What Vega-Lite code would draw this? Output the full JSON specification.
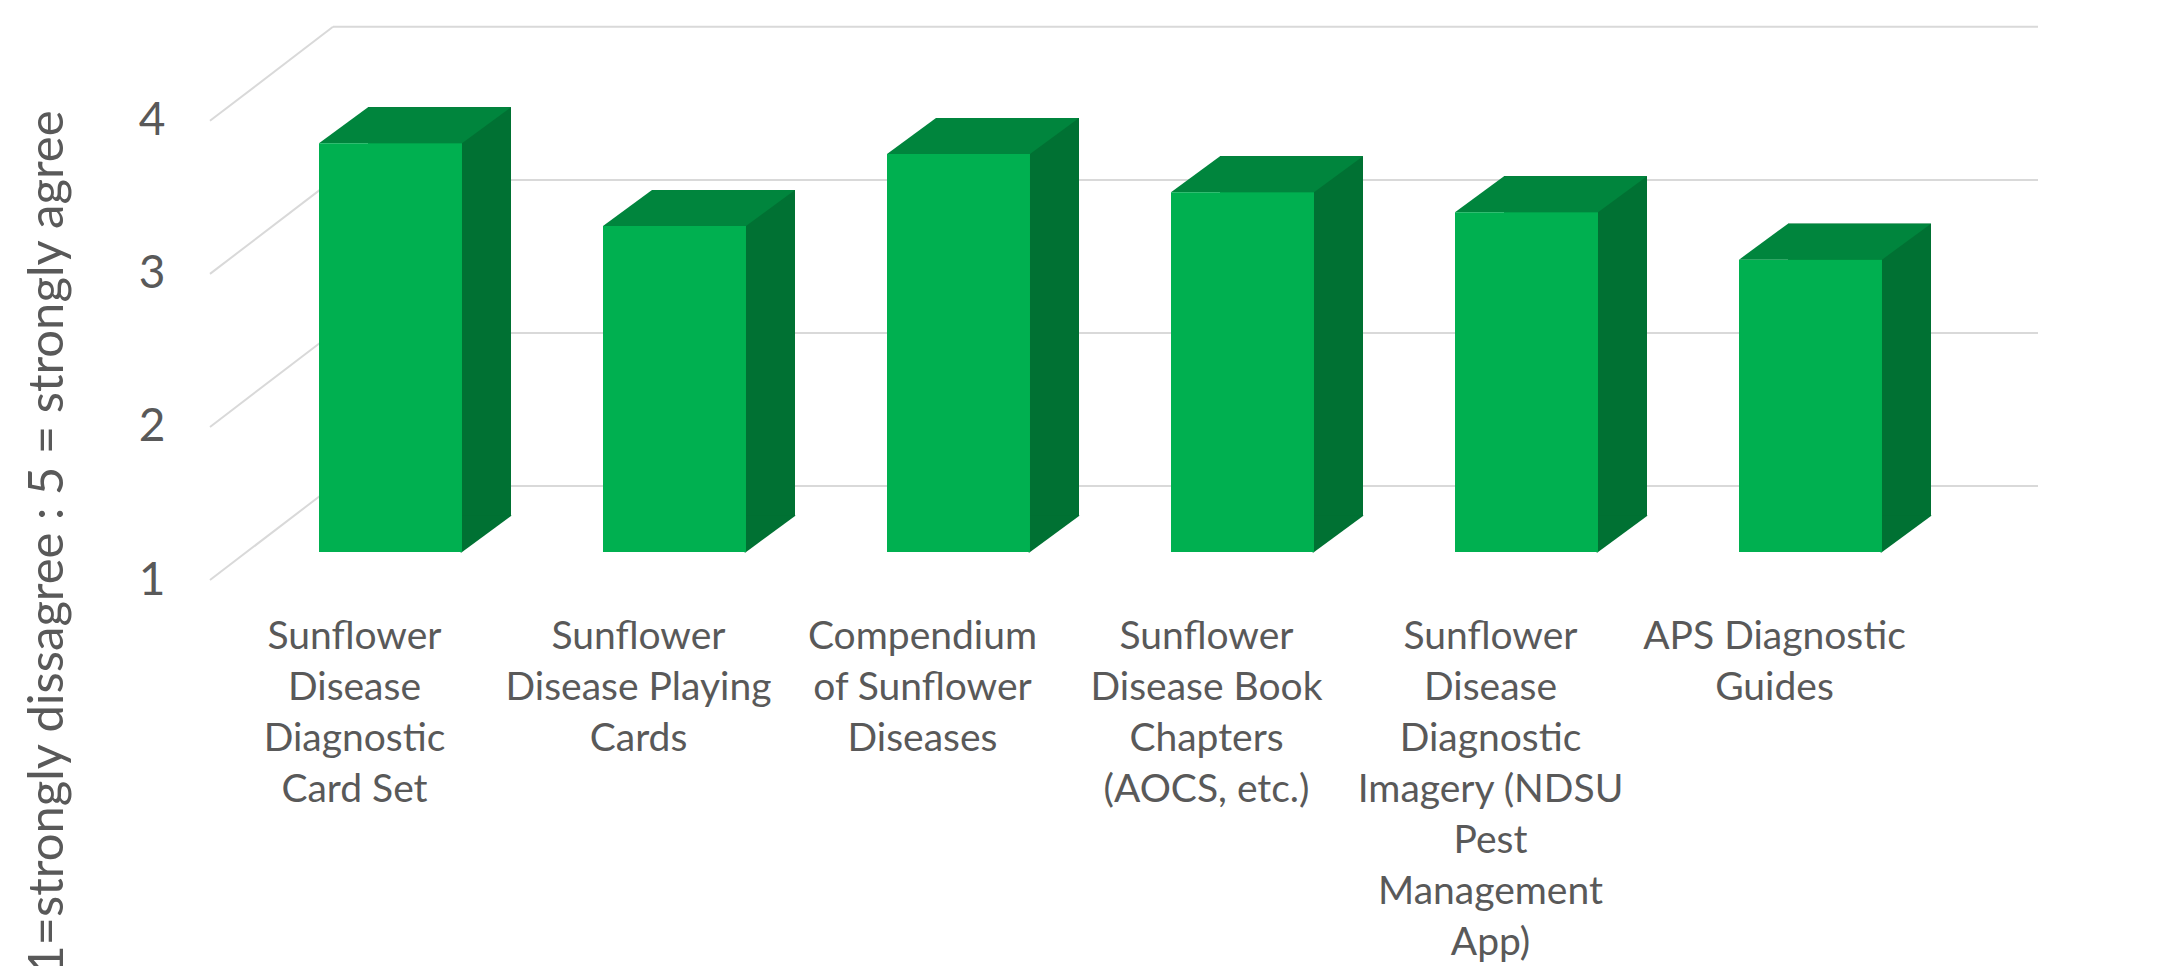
{
  "$schema": "https://vega.github.io/schema/vega-lite/v6.json",
  "autosize": {"type": "none"},
  "padding": {"left": 248, "top": 27, "right": 210, "bottom": 414},
  "width": 1705,
  "height": 525,
  "background": "white",
  "config": {"view": {"stroke": null}},
  "datasets": {
    "bars": [
      {"resource": "Sunflower\nDisease\nDiagnostic\nCard Set", "score": 3.67},
      {"resource": "Sunflower\nDisease Playing\nCards", "score": 3.13},
      {"resource": "Compendium\nof Sunflower\nDiseases", "score": 3.6},
      {"resource": "Sunflower\nDisease Book\nChapters\n(AOCS, etc.)", "score": 3.35},
      {"resource": "Sunflower\nDisease\nDiagnostic\nImagery (NDSU\nPest\nManagement\nApp)", "score": 3.22},
      {"resource": "APS Diagnostic\nGuides", "score": 2.91}
    ],
    "grid": [{"v": 1}, {"v": 2}, {"v": 3}, {"v": 4}]
  },
  "layer": [
    {
      "data": {"name": "bars"},
      "mark": {"type": "bar", "color": "#007133", "xOffset": 49, "yOffset": -36, "y2Offset": -36},
      "encoding": {
        "x": {"field": "resource", "type": "nominal", "sort": null,
              "scale": {"domain": ["Sunflower\nDisease\nDiagnostic\nCard Set", "Sunflower\nDisease Playing\nCards", "Compendium\nof Sunflower\nDiseases", "Sunflower\nDisease Book\nChapters\n(AOCS, etc.)", "Sunflower\nDisease\nDiagnostic\nImagery (NDSU\nPest\nManagement\nApp)", "APS Diagnostic\nGuides"],
                        "paddingInner": 0.4965, "paddingOuter": 0.25},
              "axis": {"labelExpr": "split(datum.label, '\\n')", "labelFont": "Lato", "labelFontSize": 39, "labelLineHeight": 51,
                       "labelColor": "#595959", "labelAngle": 0, "labelOffset": -36, "labelPadding": 65, "ticks": false,
                       "domain": false, "grid": false, "title": null, "labelLimit": 0, "labelOverlap": false, "labelBaseline": "top"}},
        "y": {"field": "score", "type": "quantitative", "scale": {"domain": [1, 4.43], "nice": false, "zero": false},
              "axis": {"values": [1, 2, 3, 4], "format": "d", "labelFont": "Lato", "labelFontSize": 46, "labelColor": "#595959", "labelOffset": 28,
                       "labelPadding": 83, "ticks": false, "domain": false, "grid": false,
                       "title": "1=strongly dissagree : 5 = strongly agree", "titleFont": "Lato", "titleFontSize": 49,
                       "titleFontWeight": "normal", "titleColor": "#595959", "titleX": -186, "titleY": 83,
                       "titleAlign": "right", "titleBaseline": "alphabetic", "titleAngle": -90}},
        "y2": {"datum": 1}
      }
    },
    {
      "data": {"name": "grid"},
      "mark": {"type": "rule", "color": "#D9D9D9", "strokeWidth": 2, "xOffset": 14, "x2Offset": 299, "yOffset": -66, "y2Offset": -66},
      "encoding": {
        "x": {"datum": "Sunflower\nDisease\nDiagnostic\nCard Set", "type": "nominal", "bandPosition": 0},
        "x2": {"datum": "APS Diagnostic\nGuides", "bandPosition": 0},
        "y": {"field": "v", "type": "quantitative"},
        "y2": {"field": "v"}
      }
    },
    {
      "data": {"name": "grid"},
      "mark": {"type": "rule", "color": "#D9D9D9", "strokeWidth": 2, "xOffset": -109, "x2Offset": 14, "yOffset": 28, "y2Offset": -66},
      "encoding": {
        "x": {"datum": "Sunflower\nDisease\nDiagnostic\nCard Set", "type": "nominal", "bandPosition": 0},
        "x2": {"datum": "Sunflower\nDisease\nDiagnostic\nCard Set", "bandPosition": 0},
        "y": {"field": "v", "type": "quantitative"},
        "y2": {"field": "v"}
      }
    },
    {
      "data": {"name": "bars"},
      "mark": {"type": "bar", "color": "#007133", "xOffset": 49, "yOffset": -36, "y2Offset": -36},
      "encoding": {
        "x": {"field": "resource", "type": "nominal", "sort": null},
        "y": {"field": "score", "type": "quantitative"},
        "y2": {"datum": 1}
      }
    },
    {
      "data": {"name": "bars"},
      "mark": {"type": "point", "filled": true, "opacity": 1, "strokeWidth": 0, "color": "#007133",
               "shape": "M-1.05,0.78L-1.05,-0.76L1.03,-0.76Z", "size": 2401, "xOffset": 96, "yOffset": -18},
      "encoding": {
        "x": {"field": "resource", "type": "nominal", "sort": null},
        "y": {"datum": 1, "type": "quantitative"}
      }
    },
    {
      "data": {"name": "bars"},
      "mark": {"type": "point", "filled": true, "opacity": 1, "strokeWidth": 0, "color": "#00853D",
               "shape": "M-1,0.1875L0.4896,0.1875L1,-0.1875L-0.4896,-0.1875Z", "size": 36864, "xOffset": 24.5, "yOffset": -18},
      "encoding": {
        "x": {"field": "resource", "type": "nominal", "sort": null},
        "y": {"field": "score", "type": "quantitative"}
      }
    },
    {
      "data": {"name": "bars"},
      "mark": {"type": "bar", "color": "#00B050"},
      "encoding": {
        "x": {"field": "resource", "type": "nominal", "sort": null},
        "y": {"field": "score", "type": "quantitative"},
        "y2": {"datum": 1}
      }
    }
  ]
}
